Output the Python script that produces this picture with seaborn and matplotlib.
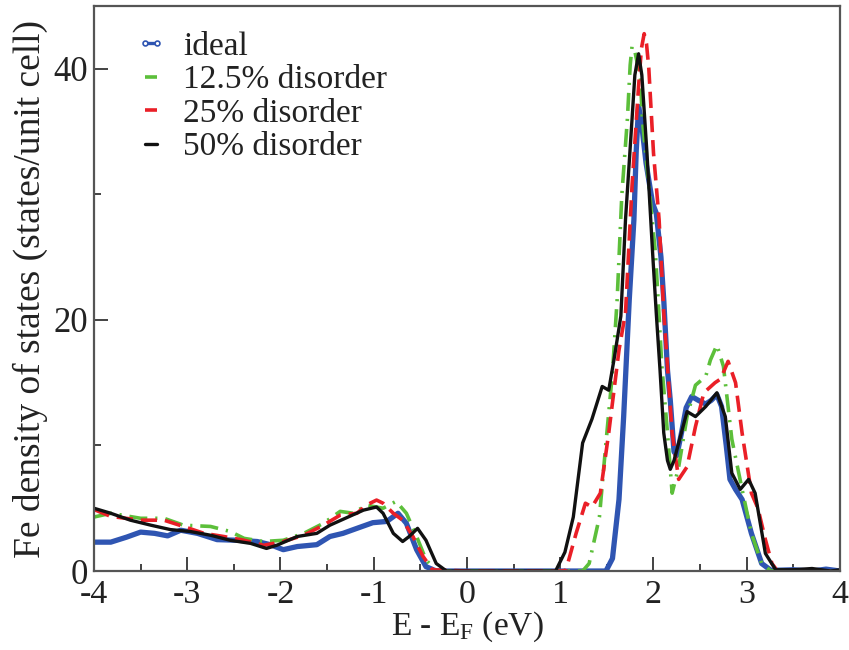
import matplotlib
matplotlib.use("Agg")
import matplotlib.pyplot as plt
from matplotlib.lines import Line2D
import seaborn as sns
import pandas as pd

# Fe projected density of states (states/unit cell) vs. E - E_F (eV)
ideal_x = [-4.0, -3.82, -3.65, -3.5, -3.35, -3.21, -3.07, -2.89, -2.68, -2.46, -2.25, -2.11,
           -1.97, -1.82, -1.61, -1.47, -1.33, -1.18, -1.01, -0.86, -0.74, -0.65, -0.54, -0.44,
           -0.33, 0.0, 1.0, 1.49, 1.56, 1.63, 1.68, 1.74, 1.79, 1.815, 1.84, 1.87, 1.92, 1.99,
           2.03, 2.08, 2.11, 2.15, 2.18, 2.22, 2.25, 2.30, 2.35, 2.41, 2.48, 2.56, 2.62, 2.68,
           2.73, 2.78, 2.82, 2.88, 2.95, 3.05, 3.16, 3.26, 3.5, 3.7, 3.85, 4.0]
ideal_y = [2.3, 2.3, 2.7, 3.1, 3.0, 2.8, 3.25, 3.0, 2.5, 2.45, 2.35, 2.1,
           1.7, 1.95, 2.1, 2.75, 3.0, 3.4, 3.85, 3.95, 4.6, 3.8, 1.7, 0.35,
           0.0, 0.0, 0.0, 0.0, 1.0, 5.7, 12.3, 21.6, 28.0, 33.5, 37.0, 35.8, 32.5, 29.3,
           28.5, 25.0, 21.6, 16.0, 13.6, 9.5, 9.2, 11.0, 13.0, 13.9, 13.6, 13.3, 13.6, 14.05,
           13.1, 10.0, 7.3, 6.5, 5.7, 3.0, 0.6, 0.05, 0.1, 0.0, 0.15, 0.0]

d125_x = [-4.0, -3.82, -3.50, -3.25, -3.04, -2.75, -2.54, -2.39, -2.18, -1.97, -1.75, -1.54,
          -1.36, -1.22, -1.08, -0.90, -0.76, -0.65, -0.54, -0.44, -0.33, 0.0, 1.0, 1.24,
          1.31, 1.42, 1.49, 1.56, 1.61, 1.66, 1.72, 1.75, 1.77, 1.80, 1.86, 1.88, 1.95, 2.02,
          2.06, 2.09, 2.15, 2.20, 2.27, 2.36, 2.45, 2.56, 2.61, 2.68, 2.75, 2.84, 2.95, 3.05,
          3.16, 3.26, 3.5, 3.8, 4.0]
d125_y = [4.3, 4.6, 4.2, 4.2, 3.65, 3.55, 3.15, 2.6, 2.35, 2.45, 3.0, 3.8,
          4.75, 4.6, 5.25, 5.0, 5.55, 4.6, 2.75, 0.9, 0.0, 0.0, 0.0, 0.0,
          0.6, 4.3, 10.2, 15.8, 21.6, 29.9, 36.0, 40.3, 41.8, 41.4, 39.2, 36.0, 30.7, 25.4,
          20.3, 16.3, 11.0, 6.2, 8.3, 12.3, 14.8, 15.5, 16.8, 18.0, 16.3, 10.5, 6.5, 3.0,
          0.6, 0.0, 0.1, 0.0, 0.0]

d25_x = [-4.0, -3.82, -3.50, -3.25, -3.04, -2.82, -2.61, -2.39, -2.18, -1.97, -1.75, -1.54,
         -1.36, -1.18, -1.08, -0.97, -0.90, -0.79, -0.69, -0.58, -0.47, -0.37, 0.0, 1.0,
         1.06, 1.17, 1.27, 1.34, 1.43, 1.52, 1.63, 1.70, 1.77, 1.84, 1.87, 1.90, 1.925, 1.95,
         2.00, 2.06, 2.11, 2.15, 2.20, 2.27, 2.36, 2.45, 2.54, 2.66, 2.72, 2.80, 2.88, 2.95,
         3.05, 3.12, 3.20, 3.27, 3.33, 3.6, 3.8, 4.0]
d25_y = [4.9, 4.35, 4.05, 4.05, 3.55, 3.0, 2.75, 2.45, 2.05, 2.35, 2.85, 3.65,
         4.45, 4.6, 5.25, 5.65, 5.4, 4.6, 4.05, 2.75, 1.15, 0.1, 0.0, 0.0,
         0.05, 3.0, 5.4, 5.1, 6.2, 11.0, 17.6, 20.6, 30.7, 38.6, 41.6, 42.8, 42.0, 40.0,
         33.3, 28.0, 20.6, 16.3, 11.0, 7.3, 8.3, 11.5, 14.2, 15.0, 15.3, 16.7, 15.0, 11.0,
         6.2, 5.0, 2.5, 0.6, 0.0, 0.1, 0.0, 0.0]

d50_x = [-4.0, -3.82, -3.61, -3.39, -3.18, -2.97, -2.75, -2.54, -2.32, -2.15, -2.04, -1.82,
         -1.61, -1.47, -1.26, -1.11, -0.97, -0.90, -0.79, -0.69, -0.62, -0.53, -0.44, -0.33,
         -0.22, 0.0, 0.95, 1.05, 1.14, 1.24, 1.34, 1.45, 1.52, 1.58, 1.65, 1.70, 1.77, 1.80,
         1.84, 1.875, 1.93, 1.99, 2.03, 2.07, 2.11, 2.15, 2.18, 2.22, 2.27, 2.36, 2.45, 2.56,
         2.68, 2.77, 2.84, 2.93, 3.02, 3.09, 3.20, 3.31, 3.5, 3.7, 3.9, 4.0]
d50_y = [5.0, 4.6, 4.05, 3.65, 3.3, 3.15, 2.85, 2.45, 2.2, 1.8, 2.05, 2.75,
         3.0, 3.65, 4.35, 4.85, 5.1, 4.6, 3.0, 2.35, 2.75, 3.4, 2.45, 0.6,
         0.0, 0.0, 0.0, 1.5, 4.3, 10.2, 12.1, 14.7, 14.4, 17.0, 20.3, 28.0, 36.0, 39.5,
         41.2, 39.5, 33.3, 25.4, 20.5, 16.0, 11.0, 8.8, 8.1, 8.8, 10.2, 12.7, 12.3, 13.1,
         14.2, 12.3, 7.8, 6.5, 7.3, 6.2, 1.4, 0.1, 0.1, 0.2, 0.0, 0.1]

labels = ["ideal", "12.5% disorder", "25% disorder", "50% disorder"]
colors = ["#2f55b2", "#5cbf3a", "#ea1f27", "#111111"]
xs = [ideal_x, d125_x, d25_x, d50_x]
ys = [ideal_y, d125_y, d25_y, d50_y]

sns.set_theme(style="ticks")
plt.rcParams["font.family"] = ["Liberation Serif", "DejaVu Serif"]
plt.rcParams["mathtext.fontset"] = "custom"
plt.rcParams["mathtext.rm"] = "Liberation Serif"
plt.rcParams["mathtext.it"] = "Liberation Serif:italic"
plt.rcParams["axes.unicode_minus"] = False

fig = plt.figure(figsize=(8.49, 6.5), dpi=100)
ax = fig.add_axes([0.1107, 0.1215, 0.8787, 0.8692])

styles = [
    dict(lw=3.8, ls="-"),
    dict(lw=2.6, ls=(0, (5, 2.2, 0.6, 2.2))),
    dict(lw=2.6, ls=(0, (4.5, 2.2))),
    dict(lw=2.4, ls="-"),
]

for x, y, lab, c, st in zip(xs, ys, labels, colors, styles):
    df = pd.DataFrame({"E": x, "DOS": y})
    sns.lineplot(data=df, x="E", y="DOS", ax=ax, color=c, linewidth=st["lw"],
                 linestyle=st["ls"], sort=False, estimator=None, legend=False)

ax.set_xlim(-4, 4)
ax.set_ylim(0, 45)
ax.set_xticks(range(-4, 5))
ax.set_xticklabels([str(v) for v in range(-4, 5)])
ax.set_xticks([v + 0.5 for v in range(-4, 4)], minor=True)
ax.set_yticks([0, 20, 40])
ax.set_yticks([10, 30], minor=True)
ax.tick_params(axis="both", which="major", direction="in", length=10, width=1.2,
               labelsize=25, colors="#222222", pad=4)
ax.tick_params(axis="both", which="minor", direction="in", length=5, width=1.2,
               colors="#222222")
ax.tick_params(axis="x", which="major", labelsize=24.5, pad=6)
for sp in ax.spines.values():
    sp.set_color("#555555")
    sp.set_linewidth(1.6)

ax.set_xlabel(r"E - E$_\mathrm{F}$ (eV)", fontsize=24, color="#222222", labelpad=0)
ax.set_ylabel("Fe density of states (states/unit cell)", fontsize=27, color="#222222",
              labelpad=4)

handles = [Line2D([], [], color=c, lw=st["lw"] if i else 2.4, ls=st["ls"],
                  marker="o" if i == 0 else None, markersize=3.5,
                  markerfacecolor="white", markeredgecolor=c, markeredgewidth=1.2)
           for i, (c, st) in enumerate(zip(colors, styles))]
leg = ax.legend(handles, labels, loc="upper left", bbox_to_anchor=(0.055, 0.955),
                frameon=False, fontsize=24, handlelength=0.95, handletextpad=0.5,
                labelspacing=0.09, borderpad=0, borderaxespad=0, numpoints=2)
for t in leg.get_texts():
    t.set_color("#222222")

fig.savefig("out.png", dpi=100)
